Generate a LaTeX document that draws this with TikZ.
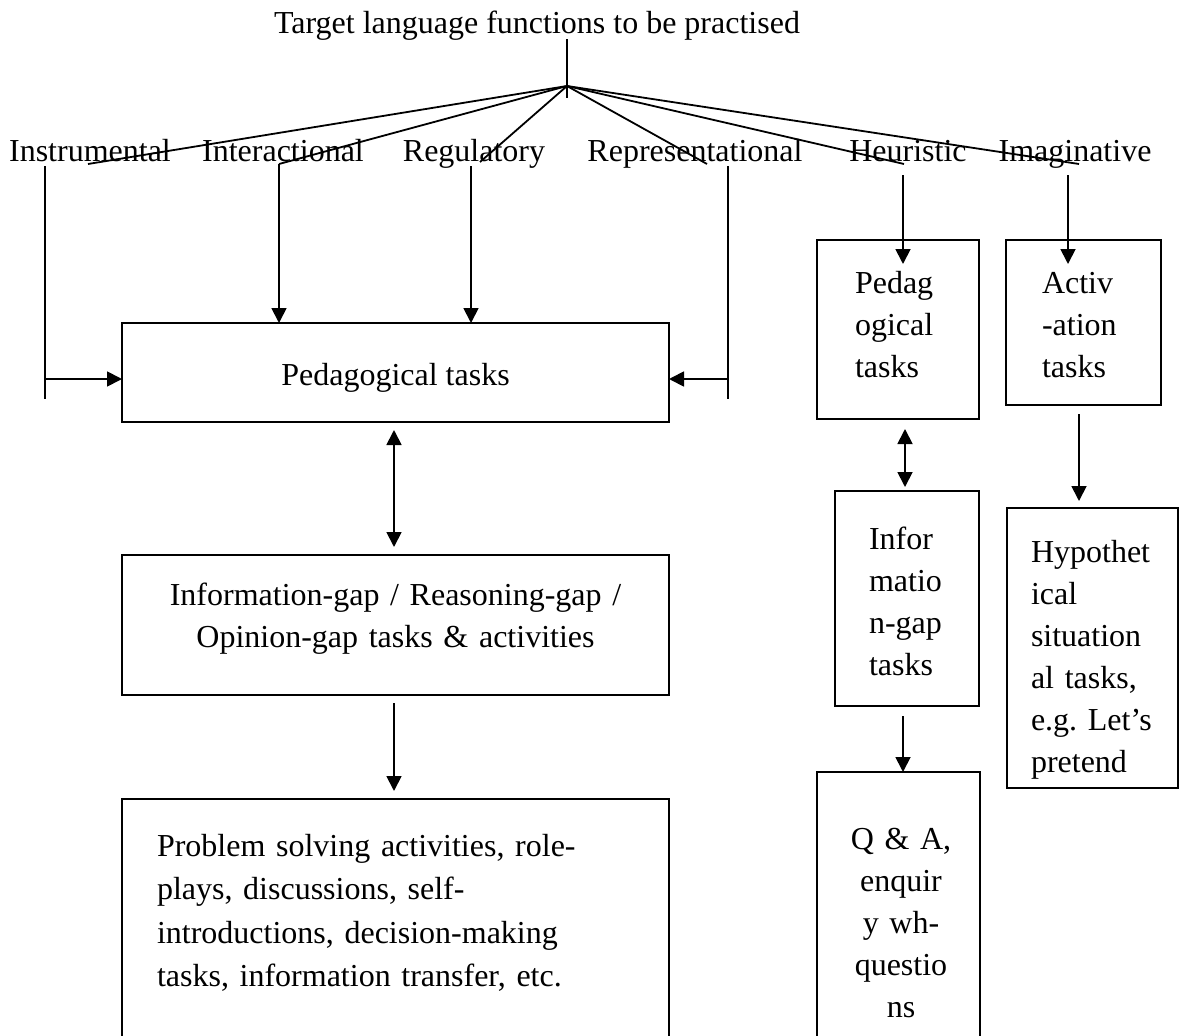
\documentclass[tikz,border=0pt]{standalone}
\usepackage{fontspec}
\setmainfont{Liberation Serif}
\usetikzlibrary{arrows.meta}
\begin{document}
\frenchspacing
\begin{tikzpicture}[x=1pt,y=-1pt,
  txt/.style={font=\fontsize{32}{42}\selectfont, inner sep=0pt, outer sep=0pt},
  mtxt/.style={txt, text width=#1},
  box/.style={draw, line width=1.8pt, inner sep=0pt, outer sep=0pt, anchor=north west},
  conn/.style={line width=1.8pt},
  arr/.style={conn, -{Triangle[length=15pt,width=15pt]}},
  darr/.style={conn, {Triangle[length=15pt,width=15pt]}-{Triangle[length=15pt,width=15pt]}}]
\clip (0,0) rectangle (1184,1036);
\useasboundingbox (0,0) rectangle (1184,1036);

% title and fan
\node[txt, anchor=base] (title) at (537,33) {Target language functions to be practised};
\coordinate (top) at (567,39);
\coordinate (apex) at (567,86);
\coordinate (stem) at (567,98);
\draw[conn] (top) -- (stem);

% function labels
\node[txt, anchor=base] (instr) at (90,161) {Instrumental};
\node[txt, anchor=base] (inter) at (283,161) {Interactional};
\node[txt, anchor=base] (regul) at (474,161) {Regulatory};
\node[txt, anchor=base] (repr) at (695,161) {Representational};
\node[txt, anchor=base] (heur) at (908,161) {Heuristic};
\node[txt, anchor=base] (imag) at (1075,161) {Imaginative};

\coordinate (f1) at (88,164);
\coordinate (f2) at (279,164);
\coordinate (f3) at (480,162);
\coordinate (f4) at (707,164);
\coordinate (f5) at (904,164);
\coordinate (f6) at (1079,164);
\foreach \f in {f1,f2,f3,f4,f5,f6} \draw[conn] (apex) -- (\f);

% left column boxes
\node[box, minimum width=547pt, minimum height=99pt] (ped) at (122,323) {};
\node[txt, anchor=base] (pedt) at (395.5,385) {Pedagogical tasks};
\node[box, minimum width=547pt, minimum height=140pt] (info) at (122,555) {};
\node[mtxt=520pt, align=center, anchor=base] (infot) at (395.5,605) {Information-gap / Reasoning-gap /\\Opinion-gap tasks \& activities};
\node[box, minimum width=547pt, minimum height=300pt] (prob) at (122,799) {};
\node[mtxt=480pt, align=left, anchor=base west, font=\fontsize{32}{43.5}\selectfont] (probt) at (157,856) {Problem solving activities, role-\\plays, discussions, self-\\introductions, decision-making\\tasks, information transfer, etc.};

% right columns
\node[box, minimum width=162pt, minimum height=179pt] (pedag) at (817,240) {};
\node[mtxt=120pt, align=left, anchor=base west] (pedagt) at (855,293) {Pedag\\ogical\\tasks};
\node[box, minimum width=144pt, minimum height=215pt] (infor) at (835,491) {};
\node[mtxt=100pt, align=left, anchor=base west] (infort) at (869,549) {Infor\\matio\\n-gap\\tasks};
\node[box, minimum width=163pt, minimum height=300pt] (qa) at (817,772) {};
\node[mtxt=140pt, align=center, anchor=base] (qat) at (901,849) {Q \& A,\\enquir\\y wh-\\questio\\ns};
\node[box, minimum width=155pt, minimum height=165pt] (activ) at (1006,240) {};
\node[mtxt=110pt, align=left, anchor=base west] (activt) at (1042,293) {Activ\\-ation\\tasks};
\node[box, minimum width=171pt, minimum height=280pt] (hyp) at (1007,508) {};
\node[mtxt=150pt, align=left, anchor=base west] (hypt) at (1031,562) {Hypothet\\ical\\situation\\al tasks,\\e.g. Let’s\\pretend};

% connectors from the function labels
\coordinate (v1a) at (45,166);
\coordinate (v1b) at (45,399);
\coordinate (v1m) at (45,379);
\draw[conn] (v1a) -- (v1b);
\draw[arr] (v1m) -- (v1m -| ped.west);

\draw[arr] (f2) -- (f2 |- ped.north);

\coordinate (v3a) at (471,166);
\draw[arr] (v3a) -- (v3a |- ped.north);

\coordinate (v4a) at (728,166);
\coordinate (v4b) at (728,399);
\coordinate (v4m) at (728,379);
\draw[conn] (v4a) -- (v4b);
\draw[arr] (v4m) -- (v4m -| ped.east);

\coordinate (v5a) at (903,175);
\coordinate (v5b) at (903,264);
\draw[arr] (v5a) -- (v5b);
\coordinate (v6a) at (1068,175);
\coordinate (v6b) at (1068,264);
\draw[arr] (v6a) -- (v6b);

% flow arrows, left column
\coordinate (c1a) at (394,430);
\coordinate (c1b) at (394,547);
\draw[darr] (c1a) -- (c1b);
\coordinate (c2a) at (394,703);
\coordinate (c2b) at (394,791);
\draw[arr] (c2a) -- (c2b);

% flow arrows, right columns
\coordinate (c3a) at (905,429);
\coordinate (c3b) at (905,487);
\draw[darr] (c3a) -- (c3b);
\coordinate (c4a) at (903,716);
\draw[arr] (c4a) -- (c4a |- qa.north);
\coordinate (c5a) at (1079,414);
\coordinate (c5b) at (1079,501);
\draw[arr] (c5a) -- (c5b);
\end{tikzpicture}
\end{document}
